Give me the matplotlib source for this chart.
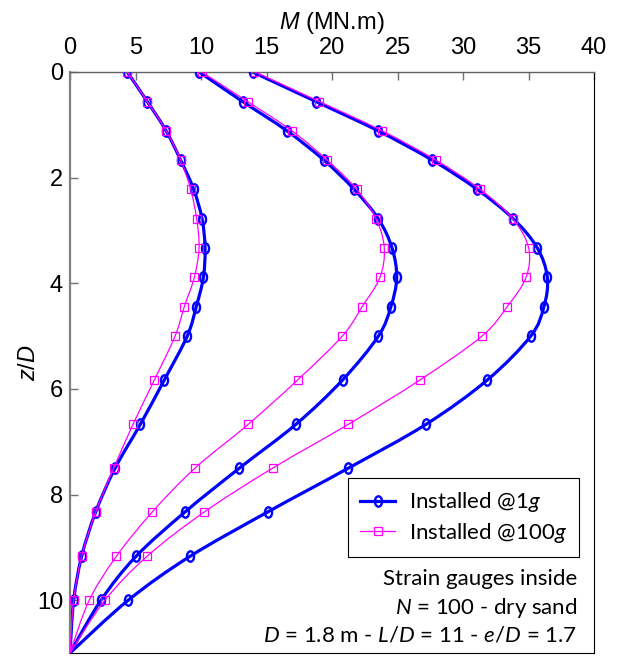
import numpy as np
import matplotlib
matplotlib.use("Agg")
import matplotlib.pyplot as plt
from matplotlib.path import Path
from matplotlib.patches import PathPatch
from matplotlib.lines import Line2D
from matplotlib.transforms import Affine2D

plt.rcParams['mathtext.fontset'] = 'custom'
plt.rcParams['mathtext.rm'] = 'Lato'
plt.rcParams['mathtext.it'] = 'Lato:italic'
plt.rcParams['mathtext.sf'] = 'Liberation Sans:italic'

# ---------------- data ----------------
z_over_D = [0.0, 0.56, 1.11, 1.67, 2.22, 2.78, 3.33, 3.89, 4.44, 5.0,
            5.83, 6.67, 7.5, 8.33, 9.17, 10.0, 11.0]

M_1g_a = [4.37, 5.90, 7.33, 8.45, 9.44, 10.08, 10.31, 10.18, 9.64, 8.95,
          7.20, 5.37, 3.44, 1.96, 0.89, 0.28, 0.0]
M_100g_a = [4.37, 5.90, 7.33, 8.45, 9.21, 9.67, 9.85, 9.49, 8.73, 8.02,
            6.44, 4.81, 3.34, 1.96, 0.89, 0.28, 0.0]

M_1g_b = [9.87, 13.18, 16.54, 19.39, 21.68, 23.54, 24.58, 24.94, 24.50, 23.54,
          20.81, 17.25, 12.93, 8.78, 5.04, 2.37, 0.0]
M_100g_b = [10.05, 13.56, 16.92, 19.64, 21.88, 23.36, 23.99, 23.66, 22.31, 20.79,
            17.38, 13.61, 9.54, 6.28, 3.54, 1.47, 0.0]

M_1g_c = [13.94, 18.78, 23.49, 27.66, 31.07, 33.84, 35.67, 36.44, 36.18, 35.17,
          31.86, 27.18, 21.25, 15.09, 9.16, 4.45, 0.0]
M_100g_c = [14.12, 19.03, 23.79, 27.94, 31.30, 33.79, 35.01, 34.81, 33.38, 31.45,
            26.72, 21.25, 15.47, 10.25, 5.88, 2.67, 0.0]

x_ticks = [0, 5, 10, 15, 20, 25, 30, 35, 40]
y_ticks = [0, 2, 4, 6, 8, 10]
legend_labels = [r'Installed @1$g$', r'Installed @100$g$']
note_lines = ['Strain gauges inside',
              r'$N$ = 100 - dry sand',
              r'$D$ = 1.8 m - $L$/$D$ = 11 - $e$/$D$ = 1.7']

BLUE = '#0000FF'
PINK = '#FF00FF'


def smooth_path(xs, ys):
    """Excel-style smoothed line: cubic Bezier segments through the data points."""
    P = np.column_stack([xs, ys]).astype(float)
    n = len(P)
    verts = [P[0]]
    codes = [Path.MOVETO]
    for i in range(n - 1):
        p_prev = P[i - 1] if i > 0 else P[i]
        p_next2 = P[i + 2] if i + 2 < n else P[i + 1]
        c1 = P[i] + (P[i + 1] - p_prev) / 6.0
        c2 = P[i + 1] - (p_next2 - P[i]) / 6.0
        verts += [c1, c2, P[i + 1]]
        codes += [Path.CURVE4] * 3
    return Path(verts, codes)


ellipse_marker = Path.unit_circle().transformed(Affine2D().scale(0.68, 1.0))

fig = plt.figure(figsize=(6.17, 6.59), dpi=100)
ax = fig.add_axes([70 / 617, 1 - 653 / 659, 524 / 617, 581 / 659])

series = [(M_1g_a, 'b'), (M_1g_b, 'b'), (M_1g_c, 'b'),
          (M_100g_a, 'p'), (M_100g_b, 'p'), (M_100g_c, 'p')]
for vals, kind in series:
    if kind == 'b':
        ax.add_patch(PathPatch(smooth_path(vals, z_over_D), fill=False,
                               edgecolor=BLUE, lw=2.3, zorder=2))
        ax.plot(vals[:-1], z_over_D[:-1], linestyle='none', marker=ellipse_marker,
                markersize=7.5, markerfacecolor='none', markeredgecolor=BLUE,
                markeredgewidth=1.7, zorder=3)
    else:
        ax.add_patch(PathPatch(smooth_path(vals, z_over_D), fill=False,
                               edgecolor=PINK, lw=0.9, zorder=4))
        ax.plot(vals[:-1], z_over_D[:-1], linestyle='none', marker='s',
                markersize=6, markerfacecolor='none', markeredgecolor=PINK,
                markeredgewidth=0.9, zorder=5)

ax.set_xlim(0, 40)
ax.set_ylim(11, 0)
ax.xaxis.tick_top()
ax.xaxis.set_label_position('top')
ax.set_xticks(x_ticks)
ax.set_yticks(y_ticks)
ax.tick_params(axis='both', direction='in', length=6, width=1, color='#707070',
               labelsize=17, labelfontfamily='Liberation Sans')
ax.tick_params(axis='x', pad=9)
ax.tick_params(axis='y', pad=5)

ax.set_xlabel(r'$\mathsf{M}$ (MN.m)', fontsize=17, family='Liberation Sans', labelpad=6)
ax.set_ylabel(r'$\mathsf{z}$/$\mathsf{D}$', fontsize=17, family='Liberation Sans', labelpad=-2)

ax.spines['left'].set_color('#808080')
ax.spines['left'].set_linewidth(1.6)
ax.spines['top'].set_color('#606060')
ax.spines['top'].set_linewidth(1.0)
ax.spines['right'].set_color('black')
ax.spines['right'].set_linewidth(0.8)
ax.spines['bottom'].set_color('black')
ax.spines['bottom'].set_linewidth(0.8)

handles = [Line2D([], [], color=BLUE, lw=2.3, marker=ellipse_marker, markersize=7.5,
                  markerfacecolor='none', markeredgecolor=BLUE, markeredgewidth=1.7),
           Line2D([], [], color=PINK, lw=0.9, marker='s', markersize=6,
                  markerfacecolor='none', markeredgecolor=PINK, markeredgewidth=0.9)]
leg = ax.legend(handles, legend_labels, loc='upper right',
                bbox_to_anchor=(0.971, 0.301), prop={'family': 'Lato', 'size': 16},
                frameon=True, fancybox=False, edgecolor='black', framealpha=1,
                handlelength=1.6, numpoints=1, borderpad=0.55, labelspacing=0.3,
                handletextpad=0.6, borderaxespad=0)
leg.get_frame().set_linewidth(0.8)

ys = [0.127, 0.078, 0.030]
for line, yv in zip(note_lines, ys):
    ax.text(0.9676, yv, line, transform=ax.transAxes, ha='right', va='center',
            fontsize=16, family='Lato')

fig.savefig('out.png', dpi=100)
